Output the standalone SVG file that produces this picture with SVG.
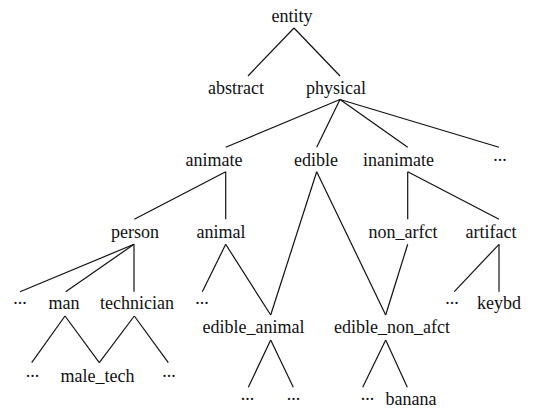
<svg xmlns="http://www.w3.org/2000/svg" width="549" height="409" viewBox="0 0 549 409">
<rect width="549" height="409" fill="#fff"/>
<g id="connectors" stroke="#111" stroke-width="1.2">
<line x1="294" y1="28" x2="248" y2="76"/>
<line x1="294" y1="28" x2="340" y2="76"/>
<line x1="340" y1="99.5" x2="225.7" y2="147.3"/>
<line x1="340" y1="99.5" x2="316.7" y2="147.3"/>
<line x1="340" y1="99.5" x2="407.7" y2="147.3"/>
<line x1="340" y1="99.5" x2="499" y2="147.3"/>
<line x1="225.7" y1="171.7" x2="134.3" y2="219.3"/>
<line x1="225.7" y1="171.7" x2="225.7" y2="219.3"/>
<line x1="316.7" y1="171.7" x2="270.7" y2="315"/>
<line x1="316.7" y1="171.7" x2="385.7" y2="315"/>
<line x1="407.7" y1="171.7" x2="407.7" y2="219.3"/>
<line x1="407.7" y1="171.7" x2="499" y2="219.3"/>
<line x1="134" y1="244.3" x2="20" y2="291.7"/>
<line x1="134" y1="244.3" x2="65.7" y2="291.7"/>
<line x1="134" y1="244.3" x2="134" y2="291.7"/>
<line x1="225.7" y1="244.3" x2="202.3" y2="291.7"/>
<line x1="225.7" y1="244.3" x2="270.7" y2="315"/>
<line x1="407.7" y1="244.3" x2="385.7" y2="315"/>
<line x1="499" y1="244.3" x2="454.3" y2="291.7"/>
<line x1="499" y1="244.3" x2="499" y2="291.7"/>
<line x1="65" y1="316" x2="31.7" y2="362.7"/>
<line x1="65" y1="316" x2="99.3" y2="362.7"/>
<line x1="134.3" y1="316" x2="99.3" y2="362.7"/>
<line x1="134.3" y1="316" x2="168.3" y2="362.7"/>
<line x1="270.7" y1="340" x2="248.3" y2="387.3"/>
<line x1="270.7" y1="340" x2="293.3" y2="387.3"/>
<line x1="385.7" y1="340" x2="362.7" y2="387.3"/>
<line x1="385.7" y1="340" x2="407.3" y2="387.3"/>
</g>
<g text-anchor="middle" fill="#111">
<g id="entity"><text x="292" y="22" font-family="Liberation Serif" font-size="18">entity</text></g>
<g id="abstract"><text x="236" y="94" font-family="Liberation Serif" font-size="18">abstract</text></g>
<g id="physical"><text x="336" y="94" font-family="Liberation Serif" font-size="18">physical</text></g>
<g id="animate"><text x="214" y="165.7" font-family="Liberation Serif" font-size="18">animate</text></g>
<g id="edible"><text x="316" y="165.7" font-family="Liberation Serif" font-size="18">edible</text></g>
<g id="inanimate"><text x="398.5" y="165.7" font-family="Liberation Serif" font-size="18">inanimate</text></g>
<g id="more1"><text x="500" y="160.7" font-family="Liberation Serif" font-size="18">...</text></g>
<g id="person"><text x="135" y="238.3" font-family="Liberation Serif" font-size="18">person</text></g>
<g id="animal"><text x="221" y="238.3" font-family="Liberation Serif" font-size="18">animal</text></g>
<g id="non_arfct"><text x="403" y="238.3" font-family="Liberation Serif" font-size="18">non_arfct</text></g>
<g id="artifact"><text x="491" y="238.3" font-family="Liberation Serif" font-size="18">artifact</text></g>
<g id="more2"><text x="20" y="304.3" font-family="Liberation Serif" font-size="18">...</text></g>
<g id="man"><text x="64" y="309.3" font-family="Liberation Serif" font-size="18">man</text></g>
<g id="technician"><text x="137" y="309.3" font-family="Liberation Serif" font-size="18">technician</text></g>
<g id="more3"><text x="202" y="304.3" font-family="Liberation Serif" font-size="18">...</text></g>
<g id="more4"><text x="452" y="304.3" font-family="Liberation Serif" font-size="18">...</text></g>
<g id="keybd"><text x="499" y="309.3" font-family="Liberation Serif" font-size="18">keybd</text></g>
<g id="edible_animal"><text x="253.5" y="333.3" font-family="Liberation Serif" font-size="18">edible_animal</text></g>
<g id="edible_non_afct"><text x="392" y="333.3" font-family="Liberation Serif" font-size="18">edible_non_afct</text></g>
<g id="more5"><text x="32.5" y="376.7" font-family="Liberation Serif" font-size="18">...</text></g>
<g id="male_tech"><text x="97.5" y="381.7" font-family="Liberation Serif" font-size="18">male_tech</text></g>
<g id="more6"><text x="169" y="376.7" font-family="Liberation Serif" font-size="18">...</text></g>
<g id="more7"><text x="247.5" y="400" font-family="Liberation Serif" font-size="18">...</text></g>
<g id="more8"><text x="293.5" y="400" font-family="Liberation Serif" font-size="18">...</text></g>
<g id="more9"><text x="367.5" y="400" font-family="Liberation Serif" font-size="18">...</text></g>
<g id="banana"><text x="411" y="405" font-family="Liberation Serif" font-size="18">banana</text></g>
</g>
</svg>
